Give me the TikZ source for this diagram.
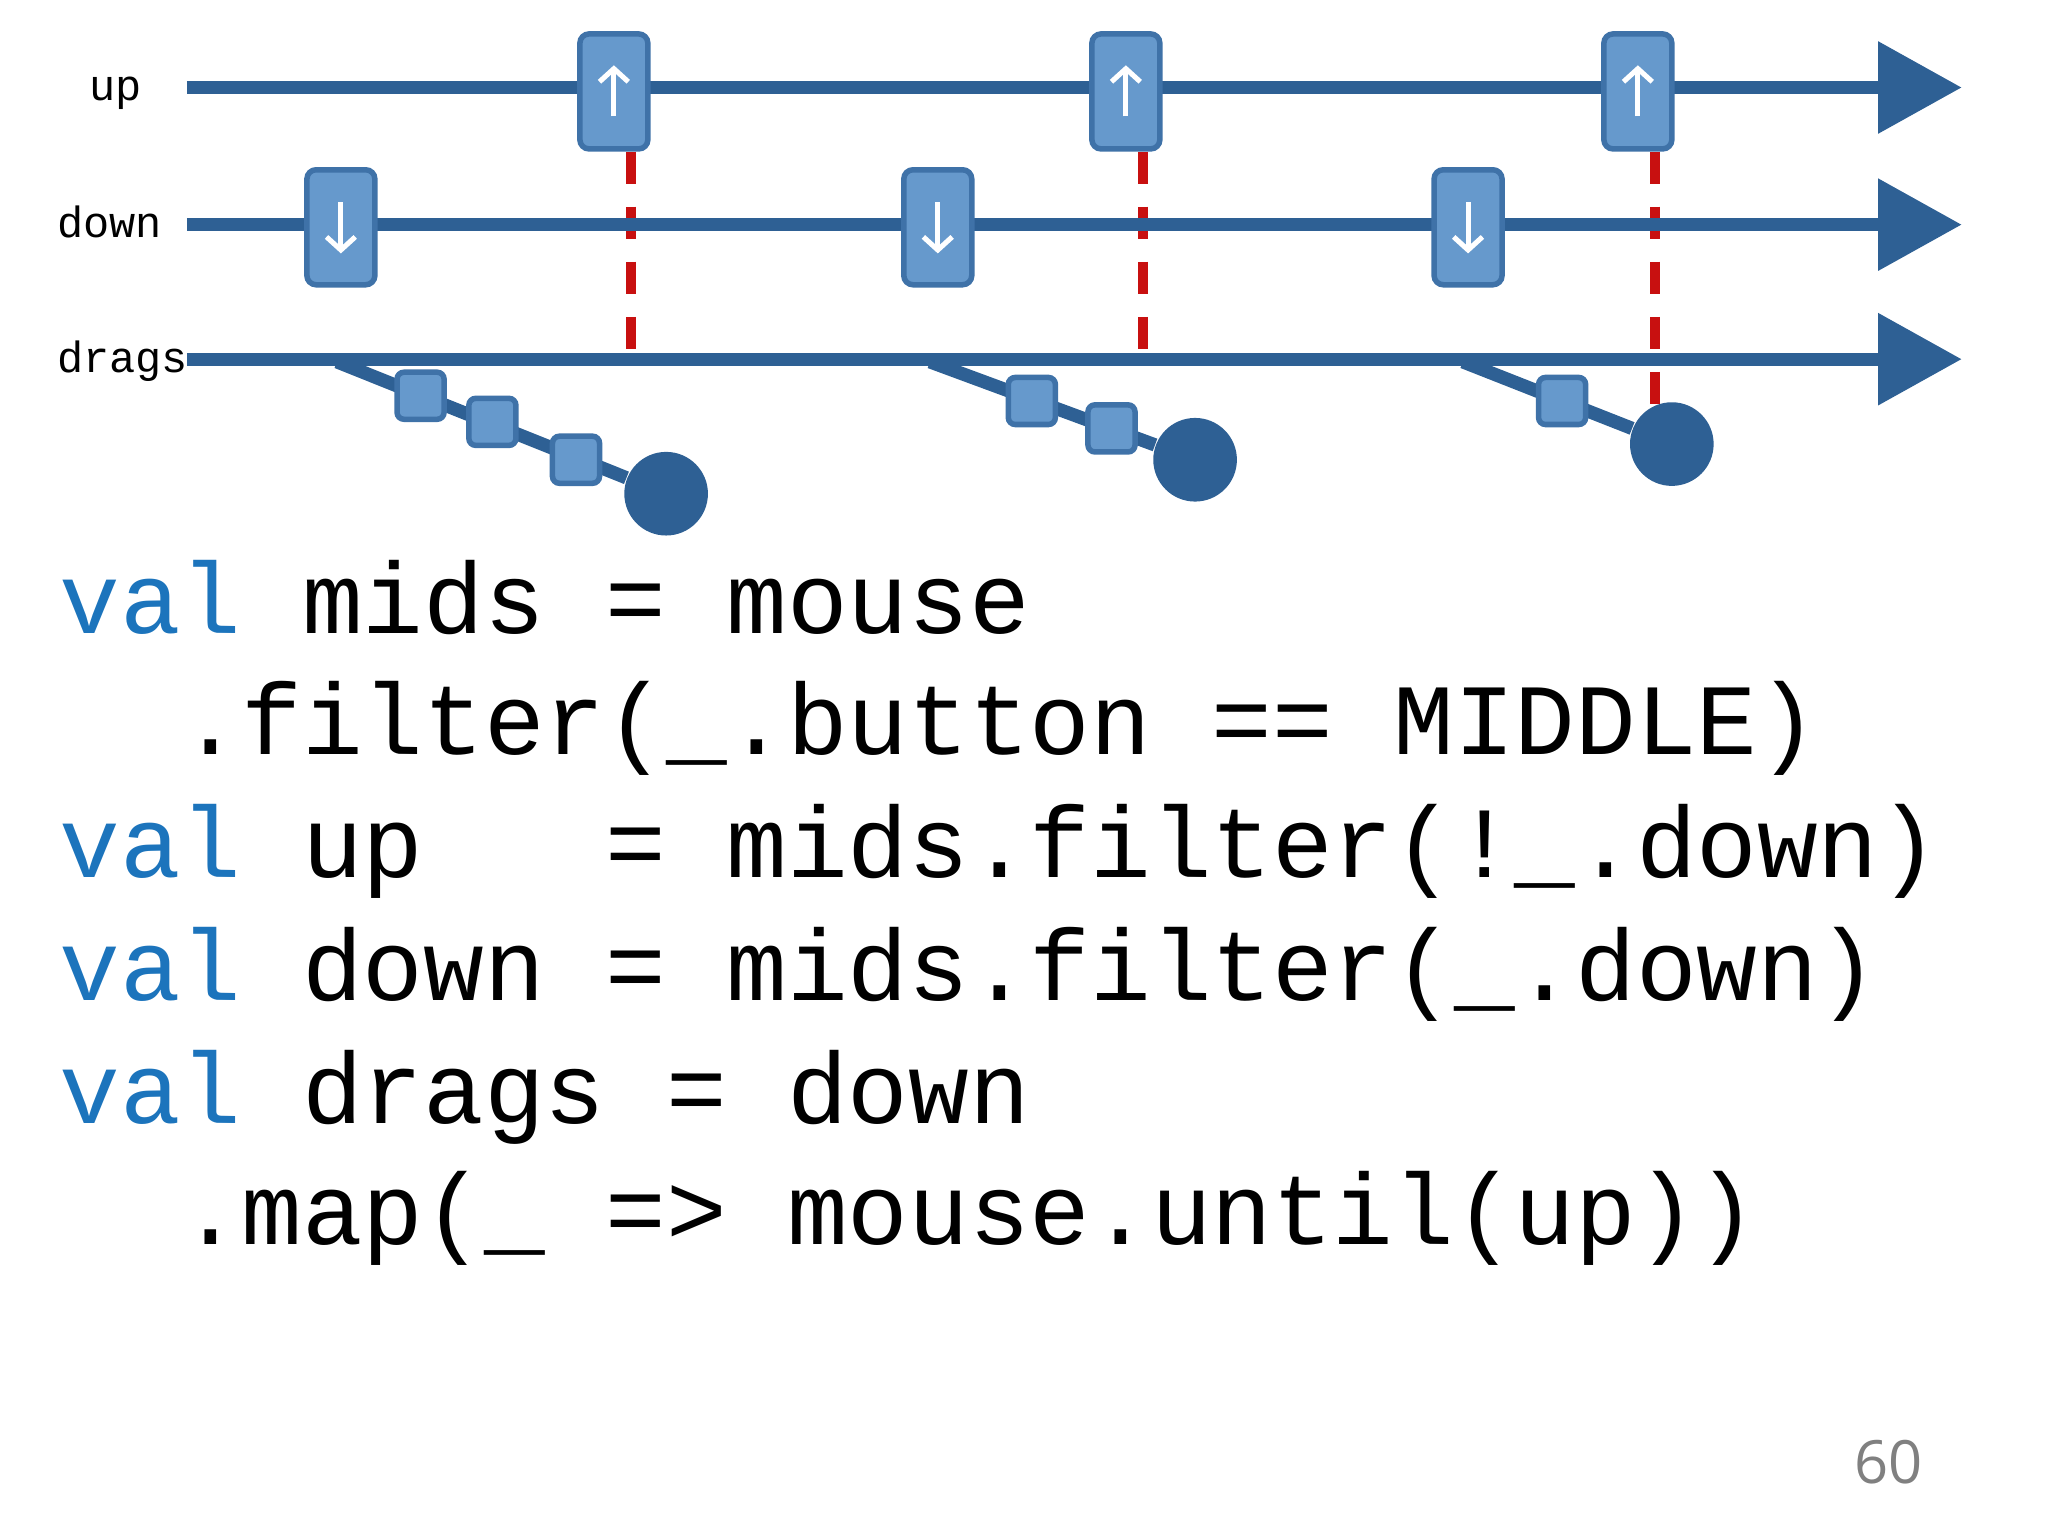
\documentclass[tikz,border=0pt]{standalone}
\usepackage{fontspec}
\setmainfont{Liberation Mono}
\newfontfamily\numfont{Open Sans}
\usetikzlibrary{arrows.meta}
\definecolor{line}{HTML}{2E6094}
\definecolor{boxf}{HTML}{6699CC}
\definecolor{boxd}{HTML}{3F72A8}
\definecolor{kw}{HTML}{1C74BC}
\tikzset{
 tl/.style={line, line width=2.9pt, -{Triangle[length=0.64cm,width=0.68cm]}},
 ev/.style={draw=boxd, fill=boxf, line width=1.2pt, rounded corners=2pt, minimum width=0.52cm, minimum height=0.88cm, inner sep=0pt},
 sq/.style={draw=boxd, fill=boxf, line width=1.2pt, rounded corners=1.5pt, minimum size=0.36cm, inner sep=0pt},
 endc/.style={circle, fill=line, minimum size=0.64cm, inner sep=0pt},
 br/.style={line, line width=2.9pt},
 rd/.style={draw={rgb,255:red,200;green,16;blue,16}, line width=2.2pt, dash pattern=on 7pt off 5pt},
 ar/.style={white, line width=1.1pt, -{Straight Barb[length=0.1cm,width=0.22cm]}},
 lab/.style={anchor=base west, inner sep=0pt, font=\fontsize{9.5}{10}\selectfont},
 code/.style={anchor=base west, inner sep=0pt, font=\fontsize{22}{24}\selectfont},
}
\begin{document}
\begin{tikzpicture}[x=0.01cm,y=-0.01cm]
\useasboundingbox (0,0) rectangle (1568,1176);
% labels
\node[lab] (lup) at (68,77) {up};
\node[lab] (ldown) at (43,182) {down};
\node[lab] (ldrags) at (43,285) {drags};
% timelines
\coordinate (us) at (143,67); \coordinate (ue) at (1502,67);
\coordinate (ds) at (143,172); \coordinate (de) at (1502,172);
\coordinate (gs) at (143,275); \coordinate (ge) at (1502,275);
% red dashed
\coordinate (r1a) at (483,116); \coordinate (r1b) at (483,275);
\coordinate (r2a) at (875,116); \coordinate (r2b) at (875,275);
\coordinate (r3a) at (1267,116); \coordinate (r3b) at (1267,312);
\draw[rd] (r1a) -- (r1b); \draw[rd] (r2a) -- (r2b); \draw[rd] (r3a) -- (r3b);
\draw[tl] (us) -- (ue);
\draw[tl] (ds) -- (de);
% branches
\coordinate (b1) at (258,277); \node[endc] (c1) at (510,378) {};
\coordinate (b2) at (712,277); \node[endc] (c2) at (915,352) {};
\coordinate (b3) at (1120,277); \node[endc] (c3) at (1280,340) {};
\draw[br] (b1) -- (c1); \draw[br] (b2) -- (c2); \draw[br] (b3) -- (c3);
\draw[tl] (gs) -- (ge);
\node[sq] (s11) at (322,303) {}; \node[sq] (s12) at (377,323) {}; \node[sq] (s13) at (441,352) {};
\node[sq] (s21) at (790,307) {}; \node[sq] (s22) at (851,328) {};
\node[sq] (s31) at (1196,307) {};
% event boxes
\foreach \n/\x in {u1/470,u2/862,u3/1254}{
  \node[ev] (\n) at (\x,70) {};
  \draw[ar] ([yshift=-0.19cm]\n.center) -- ([yshift=0.2cm]\n.center);
}
\foreach \n/\x in {d1/261,d2/718,d3/1124}{
  \node[ev] (\n) at (\x,174) {};
  \draw[ar] ([yshift=0.19cm]\n.center) -- ([yshift=-0.2cm]\n.center);
}
% code
\node[code] (l1) at (45,485) {\textcolor{kw}{val} mids = mouse};
\node[code] (l2) at (45,578) {~~.filter(\_.button == MIDDLE)};
\node[code] (l3) at (45,672) {\textcolor{kw}{val} up~~~= mids.filter(!\_.down)};
\node[code] (l4) at (45,766) {\textcolor{kw}{val} down = mids.filter(\_.down)};
\node[code] (l5) at (45,860) {\textcolor{kw}{val} drags = down};
\node[code] (l6) at (45,953) {~~.map(\_ => mouse.until(up))};
\node[anchor=base east, inner sep=0pt, text=gray, font=\numfont\fontsize{13}{14}\selectfont] (pg) at (1473,1136) {60};
\end{tikzpicture}
\end{document}
